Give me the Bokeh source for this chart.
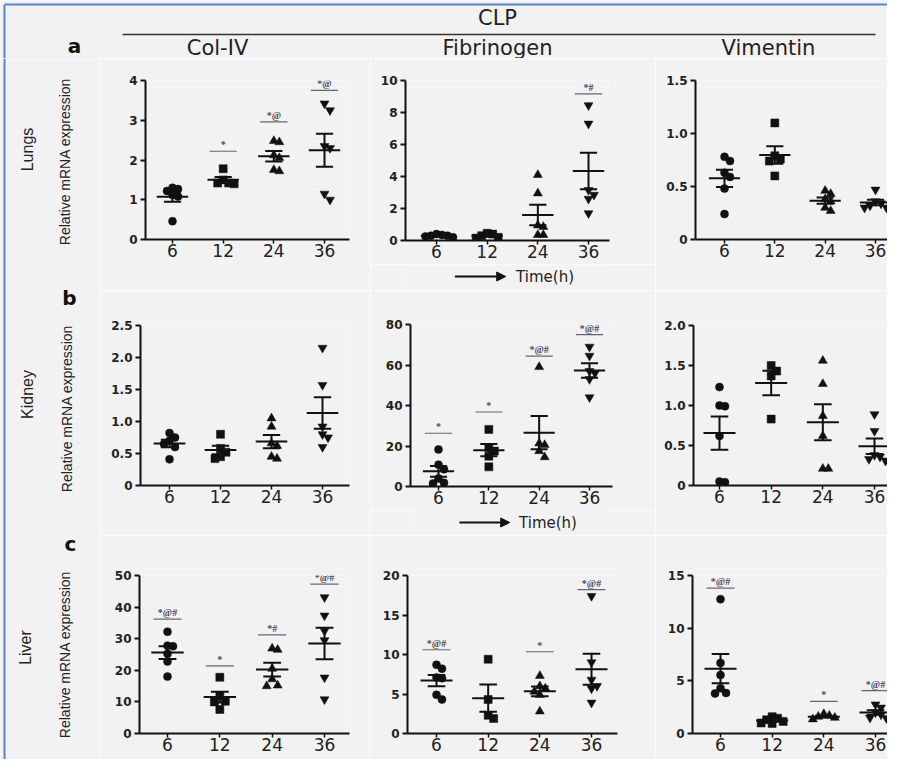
import numpy as np
from bokeh.plotting import figure
from bokeh.layouts import column, row
from bokeh.models import Range1d, FixedTicker, LabelSet, ColumnDataSource, Arrow, NormalHead
from bokeh.core.properties import value
from bokeh.embed import file_html
from bokeh.resources import INLINE

# ---------------- data ----------------
times = ["6", "12", "24", "36"]
time_markers = ["circle", "square", "triangle", "inverted_triangle"]
genes = ["Col-IV", "Fibrinogen", "Vimentin"]
organs = ["Lungs", "Kidney", "Liver"]
panel_letters = ["a", "b", "c"]
group_header = "CLP"
y_title = "Relative mRNA expression"
x_title = "Time(h)"

lungs_col4 = [[1.30, 1.27, 1.22, 1.12, 1.08, 0.46],
              [1.78, 1.50, 1.42, 1.42, 1.40],
              [2.48, 2.45, 2.12, 2.05, 1.75, 1.72],
              [3.42, 3.25, 2.35, 2.30, 1.15, 1.00]]
lungs_col4_ticks = [0, 1, 2, 3, 4]
lungs_col4_ticklabels = ["0", "1", "2", "3", "4"]
lungs_col4_sig = ["", "*", "*@", "*@"]
lungs_col4_sig_y = [None, 2.22, 2.96, 3.75]

lungs_fib = [[0.40, 0.35, 0.30, 0.30, 0.25, 0.20],
             [0.45, 0.40, 0.30, 0.20, 0.15],
             [4.10, 2.95, 0.95, 0.85, 0.35, 0.35],
             [8.45, 7.30, 3.15, 2.85, 2.60, 1.70]]
lungs_fib_ticks = [0, 2, 4, 6, 8, 10]
lungs_fib_ticklabels = ["0", "2", "4", "6", "8", "10"]
lungs_fib_sig = ["", "", "", "*#"]
lungs_fib_sig_y = [None, None, None, 9.17]

lungs_vim = [[0.78, 0.74, 0.63, 0.59, 0.48, 0.24],
             [1.10, 0.79, 0.76, 0.74, 0.60],
             [0.46, 0.43, 0.38, 0.36, 0.30, 0.27],
             [0.47, 0.36, 0.34, 0.32, 0.30, 0.30]]
lungs_vim_ticks = [0, 0.5, 1.0, 1.5]
lungs_vim_ticklabels = ["0", "0.5", "1.0", "1.5"]
lungs_vim_sig = ["", "", "", ""]
lungs_vim_sig_y = [None, None, None, None]

kidney_col4 = [[0.82, 0.75, 0.70, 0.65, 0.60, 0.41],
               [0.80, 0.58, 0.52, 0.45, 0.42],
               [1.05, 0.92, 0.66, 0.62, 0.45, 0.42],
               [2.15, 1.57, 0.92, 0.80, 0.75, 0.60]]
kidney_col4_ticks = [0, 0.5, 1.0, 1.5, 2.0, 2.5]
kidney_col4_ticklabels = ["0", "0.5", "1.0", "1.5", "2.0", "2.5"]
kidney_col4_sig = ["", "", "", ""]
kidney_col4_sig_y = [None, None, None, None]

kidney_fib = [[18.3, 10.8, 8.5, 4.0, 1.8, 1.5],
              [28.2, 19.2, 17.5, 15.0, 9.7],
              [59.0, 21.3, 20.5, 17.5, 14.5],
              [69.0, 64.5, 57.0, 56.0, 53.0, 44.0]]
kidney_fib_ticks = [0, 20, 40, 60, 80]
kidney_fib_ticklabels = ["0", "20", "40", "60", "80"]
kidney_fib_sig = ["*", "*", "*@#", "*@#"]
kidney_fib_sig_y = [26.3, 36.8, 64.4, 75.0]

kidney_vim = [[1.23, 1.00, 0.99, 0.62, 0.05, 0.04],
              [1.50, 1.43, 1.37, 0.83],
              [1.56, 1.27, 0.87, 0.62, 0.21, 0.21],
              [0.89, 0.68, 0.38, 0.36, 0.33, 0.31]]
kidney_vim_ticks = [0, 0.5, 1.0, 1.5, 2.0]
kidney_vim_ticklabels = ["0", "0.5", "1.0", "1.5", "2.0"]
kidney_vim_sig = ["", "", "", ""]
kidney_vim_sig_y = [None, None, None, None]

liver_col4 = [[32.2, 27.8, 27.6, 25.2, 22.8, 18.0],
              [17.8, 12.0, 10.2, 10.0, 7.6],
              [26.9, 26.5, 20.5, 17.2, 15.2, 15.0],
              [43.1, 37.3, 32.5, 29.5, 17.7, 10.8]]
liver_col4_ticks = [0, 10, 20, 30, 40, 50]
liver_col4_ticklabels = ["0", "10", "20", "30", "40", "50"]
liver_col4_sig = ["*@#", "*", "*#", "*@#"]
liver_col4_sig_y = [36.2, 21.4, 31.2, 47.3]

liver_fib = [[8.7, 8.2, 7.1, 7.0, 4.9, 4.3],
             [9.4, 4.3, 2.3, 1.9],
             [7.3, 6.0, 5.7, 5.3, 4.9, 2.8],
             [17.4, 9.0, 6.8, 6.0, 5.7, 3.9]]
liver_fib_ticks = [0, 5, 10, 15, 20]
liver_fib_ticklabels = ["0", "5", "10", "15", "20"]
liver_fib_sig = ["*@#", "", "*", "*@#"]
liver_fib_sig_y = [10.6, None, 10.35, 18.2]

liver_vim = [[12.75, 6.70, 5.55, 4.30, 3.85, 3.80],
             [1.60, 1.45, 1.30, 1.15, 1.00, 0.95],
             [1.85, 1.70, 1.60, 1.50, 1.35],
             [2.75, 2.45, 2.00, 1.80, 1.50, 1.45]]
liver_vim_ticks = [0, 5, 10, 15]
liver_vim_ticklabels = ["0", "5", "10", "15"]
liver_vim_sig = ["*@#", "", "*", "*@#"]
liver_vim_sig_y = [13.8, None, 3.05, 4.07]

# ---------------- style / layout ----------------
BG = "#f2f2f2"
INK = "#111111"
TXT = "#222222"
SIG = "#4a4a5e"
BLUE = "#5b86c5"
FONT = "DejaVu Sans"
RFONT = "Liberation Sans"

W, H = 887, 759
STRIP_W = 100
HEAD_H = 58
COLS = [(100, 370), (370, 655), (655, 887)]
ROWS = [(58, 290), (290, 535), (535, 759)]
# middle-column figures end earlier to leave room for the "Time(h)" strip
MID_BOTTOM = {0: 264, 1: 510}
TIME_POS = {0: (565, 276), 1: (564, 522)}
ARROW_X = (439, 510)
# frame (left, right, top, bottom, first category x, last category x) in page px
FRAMES = [
    [(145, 349, 80, 240, 172, 324), (405, 609, 80, 240, 436, 588), (695, 887, 80, 239, 724, 875)],
    [(140, 349, 325, 485, 169, 322), (410, 612, 324, 486, 438, 589), (693, 887, 324, 486, 719, 874)],
    [(139, 349, 575, 733, 167, 324), (407, 617, 574, 733, 436, 591), (692, 887, 570, 733, 720, 875)],
]

panels = [
    [(lungs_col4, lungs_col4_ticks, lungs_col4_ticklabels, lungs_col4_sig, lungs_col4_sig_y),
     (lungs_fib, lungs_fib_ticks, lungs_fib_ticklabels, lungs_fib_sig, lungs_fib_sig_y),
     (lungs_vim, lungs_vim_ticks, lungs_vim_ticklabels, lungs_vim_sig, lungs_vim_sig_y)],
    [(kidney_col4, kidney_col4_ticks, kidney_col4_ticklabels, kidney_col4_sig, kidney_col4_sig_y),
     (kidney_fib, kidney_fib_ticks, kidney_fib_ticklabels, kidney_fib_sig, kidney_fib_sig_y),
     (kidney_vim, kidney_vim_ticks, kidney_vim_ticklabels, kidney_vim_sig, kidney_vim_sig_y)],
    [(liver_col4, liver_col4_ticks, liver_col4_ticklabels, liver_col4_sig, liver_col4_sig_y),
     (liver_fib, liver_fib_ticks, liver_fib_ticklabels, liver_fib_sig, liver_fib_sig_y),
     (liver_vim, liver_vim_ticks, liver_vim_ticklabels, liver_vim_sig, liver_vim_sig_y)],
]


def style(p):
    p.background_fill_color = BG
    p.border_fill_color = BG
    p.outline_line_color = None
    p.grid.visible = False
    return p


def swarm(vals, px_x, px_y, dx=5.5, dy=7.0):
    placed, offs = [], []
    cands = [0, dx, -dx, 2 * dx, -2 * dx, 3 * dx, -3 * dx]
    for v in vals:
        yp = v * px_y
        c = cands[-1]
        for cand in cands:
            if all(abs(cand - xp) >= dx * 0.999 or abs(yp - ypp) >= dy for xp, ypp in placed):
                c = cand
                break
        placed.append((c, yp))
        offs.append(c / px_x)
    return offs


def make_panel(r, c):
    data, ticks, ticklabels, sig, sig_y = panels[r][c]
    L, R, T, B, c1, c4 = FRAMES[r][c]
    fl, fr = COLS[c]
    ft, fb = ROWS[r]
    if c == 1 and r in MID_BOTTOM:
        fb = MID_BOTTOM[r]
    s = (c4 - c1) / 3.0
    x0 = 1 - (c1 - L) / s
    x1 = 4 + (R - c4) / s
    ymax = ticks[-1]
    p = figure(width=fr - fl, height=fb - ft, x_range=Range1d(x0, x1), y_range=Range1d(0, ymax),
               min_border_left=L - fl, min_border_right=fr - R, min_border_top=T - ft,
               min_border_bottom=fb - B, output_backend="svg", toolbar_location=None)
    style(p)
    px_y = (B - T) / ymax

    for i, vals in enumerate(data):
        offs = swarm(vals, s, px_y)
        xs = [i + 1 + o for o in offs]
        p.scatter(xs, vals, marker=time_markers[i],
                  size=9 if "triangle" in time_markers[i] else 8,
                  fill_color=INK, line_color=INK, line_width=0.5)
        arr = np.array(vals)
        m = arr.mean()
        se = arr.std(ddof=1) / np.sqrt(len(arr))
        xc = i + 1
        p.segment(x0=[xc - 0.31], x1=[xc + 0.31], y0=[m], y1=[m], line_color=INK, line_width=2)
        p.segment(x0=[xc, xc - 0.17, xc - 0.17], x1=[xc, xc + 0.17, xc + 0.17],
                  y0=[m - se, m + se, m - se], y1=[m + se, m + se, m - se],
                  line_color=INK, line_width=2)

    sx, sy, st = [], [], []
    for i, (t, yv) in enumerate(zip(sig, sig_y)):
        if t and yv is not None:
            sx.append(i + 1)
            sy.append(yv)
            st.append(t)
    if st:
        p.segment(x0=[x - 0.27 for x in sx], x1=[x + 0.27 for x in sx], y0=sy, y1=sy,
                  line_color="#666670", line_width=1.2)
        src = ColumnDataSource(dict(x=sx, y=sy, t=st))
        p.add_layout(LabelSet(x="x", y="y", text="t", source=src, text_align="center",
                              text_baseline="bottom", y_offset=1, text_font=FONT,
                              text_font_size="10px", text_font_style="bold", text_color=SIG))

    ax = p.xaxis[0]
    ax.ticker = FixedTicker(ticks=[1, 2, 3, 4])
    ax.major_label_overrides = {i + 1: t for i, t in enumerate(times)}
    ax.axis_line_width = 2
    ax.axis_line_color = INK
    ax.major_tick_out = 4
    ax.major_tick_in = 0
    ax.major_tick_line_width = 1.5
    ax.major_tick_line_color = INK
    ax.minor_tick_line_color = None
    ax.major_label_standoff = 0
    ax.major_label_text_font = FONT
    ax.major_label_text_font_size = "17px"
    ax.major_label_text_color = TXT

    ay = p.yaxis[0]
    ay.ticker = FixedTicker(ticks=ticks)
    ay.major_label_overrides = {t: l for t, l in zip(ticks, ticklabels)}
    ay.axis_line_width = 2
    ay.axis_line_color = INK
    ay.major_tick_out = 5
    ay.major_tick_in = 0
    ay.major_tick_line_width = 2
    ay.major_tick_line_color = INK
    ay.minor_tick_line_color = None
    ay.major_label_standoff = 3
    ay.major_label_text_font = FONT
    ay.major_label_text_font_size = "12px"
    ay.major_label_text_font_style = "bold"
    ay.major_label_text_color = TXT
    return p


def time_strip(r):
    fl, fr = COLS[1]
    ft, fb = MID_BOTTOM[r], ROWS[r][1]
    p = figure(width=fr - fl, height=fb - ft, x_range=Range1d(fl, fr), y_range=Range1d(fb, ft),
               min_border=0, output_backend="svg", toolbar_location=None)
    style(p)
    p.axis.visible = False
    tx, ty = TIME_POS[r]
    p.text(x=[tx], y=[ty], text=[x_title], text_font=value(FONT), text_font_size="15px",
           text_align="center", text_baseline="middle", text_color=TXT)
    p.add_layout(Arrow(x_start=ARROW_X[0], y_start=ty, x_end=ARROW_X[1], y_end=ty,
                       line_color=INK, line_width=2,
                       end=NormalHead(size=9, fill_color=INK, line_color=INK)))
    return p


# ---------------- header ----------------
header = figure(width=W, height=HEAD_H, x_range=Range1d(0, W), y_range=Range1d(HEAD_H, 0),
                min_border=0, output_backend="svg", toolbar_location=None)
style(header)
header.axis.visible = False
header.line([4, W], [4, 4], line_color=BLUE, line_width=2)
header.line([4, 4], [4, HEAD_H], line_color=BLUE, line_width=2)
header.line([122, 875], [34, 34], line_color="#333333", line_width=1.5)
header.text(x=[497], y=[17], text=[group_header], text_font=value(FONT), text_font_size="21px",
            text_align="center", text_baseline="middle", text_color=TXT)
header.text(x=[217, 497, 768], y=[47, 47, 47], text=genes, text_font=value(FONT),
            text_font_size="21px", text_align="center", text_baseline="middle", text_color=TXT)
header.text(x=[74], y=[45], text=[panel_letters[0]], text_font=value(FONT), text_font_size="20px",
            text_font_style="bold", text_align="center", text_baseline="middle", text_color=INK)

# ---------------- left strip ----------------
strip = figure(width=STRIP_W, height=H - HEAD_H, x_range=Range1d(0, STRIP_W),
               y_range=Range1d(H, HEAD_H), min_border=0, output_backend="svg", toolbar_location=None)
style(strip)
strip.axis.visible = False
strip.line([4, 4], [HEAD_H, H], line_color=BLUE, line_width=2)
strip.text(x=[27, 27, 25], y=[149, 394, 647], text=organs, angle=np.pi / 2,
           text_font=value(RFONT), text_font_size="16px", text_align="center",
           text_baseline="middle", text_color=TXT)
strip.text(x=[64, 66, 64], y=[161, 408, 654], text=[y_title] * 3, angle=np.pi / 2,
           text_font=value(RFONT), text_font_size="14px", text_align="center",
           text_baseline="middle", text_color=TXT)
strip.text(x=[69, 70], y=[297, 543], text=panel_letters[1:], text_font=value(FONT),
           text_font_size="20px", text_font_style="bold", text_align="center",
           text_baseline="middle", text_color=INK)

rows = []
for r in range(3):
    kids = []
    for c in range(3):
        pnl = make_panel(r, c)
        if c == 1 and r in MID_BOTTOM:
            kids.append(column([pnl, time_strip(r)]))
        else:
            kids.append(pnl)
    rows.append(row(kids))
layout = column([header, row([strip, column(rows)])])

open("out.html", "w").write(file_html(layout, INLINE))
